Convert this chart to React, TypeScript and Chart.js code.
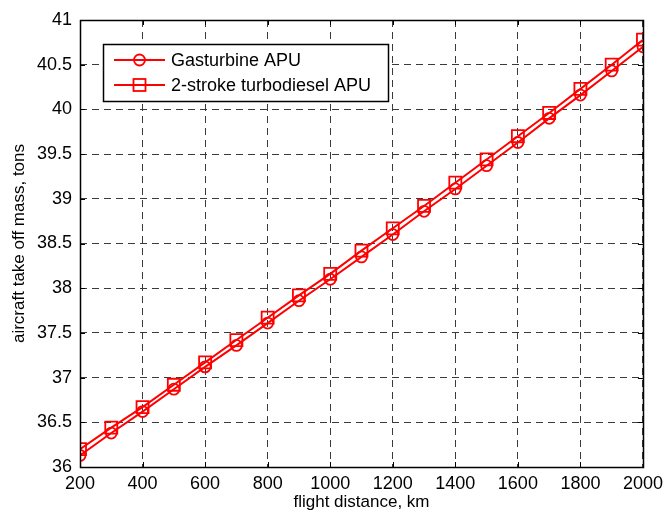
import React, { useEffect, useRef } from "react";
import { Chart, registerables } from "chart.js";

Chart.register(...registerables);

const distances = [200, 300, 400, 500, 600, 700, 800, 900, 1000, 1100, 1200, 1300, 1400, 1500, 1600, 1700, 1800, 1900, 2000];
const gasturbine = [36.13, 36.38, 36.62, 36.87, 37.12, 37.36, 37.61, 37.86, 38.1, 38.35, 38.6, 38.86, 39.11, 39.37, 39.63, 39.9, 40.16, 40.43, 40.7];
const turbodiesel = [36.2, 36.44, 36.67, 36.92, 37.17, 37.42, 37.67, 37.92, 38.16, 38.42, 38.67, 38.92, 39.18, 39.44, 39.7, 39.96, 40.23, 40.5, 40.78];
const seriesNames = ["Gasturbine APU", "2-stroke turbodiesel APU"];
const xTitle = "flight distance, km";
const yTitle = "aircraft take off mass, tons";

const FONT = "'Liberation Sans', Arial, sans-serif";

const boxPlugin = {
  id: "matlabBox",
  afterDraw(chart: any) {
    const { ctx, chartArea: a, scales } = chart;
    ctx.save();
    ctx.strokeStyle = "#000";
    ctx.lineWidth = 1;
    ctx.setLineDash([]);
    const tl = 5;
    ctx.beginPath();
    scales.x.ticks.forEach((t: any) => {
      const px = Math.round(scales.x.getPixelForValue(t.value)) + 0.5;
      ctx.moveTo(px, a.bottom);
      ctx.lineTo(px, a.bottom - tl);
      ctx.moveTo(px, a.top);
      ctx.lineTo(px, a.top + tl);
    });
    scales.y.ticks.forEach((t: any) => {
      const py = Math.round(scales.y.getPixelForValue(t.value)) + 0.5;
      ctx.moveTo(a.left, py);
      ctx.lineTo(a.left + tl, py);
      ctx.moveTo(a.right, py);
      ctx.lineTo(a.right - tl, py);
    });
    ctx.stroke();
    ctx.lineWidth = 1.5;
    ctx.strokeRect(Math.round(a.left) + 0.5, Math.round(a.top) + 0.5, Math.round(a.right - a.left), Math.round(a.bottom - a.top));

    // legend
    const lx = 103, ly = 44, lw = 285, lh = 57;
    ctx.fillStyle = "#fff";
    ctx.fillRect(lx, ly, lw, lh);
    ctx.lineWidth = 1.5;
    ctx.strokeStyle = "#000";
    ctx.strokeRect(lx + 0.5, ly + 0.5, lw, lh);
    const rows = [60, 85];
    ctx.font = `18px ${FONT}`;
    ctx.textBaseline = "middle";
    ctx.textAlign = "left";
    rows.forEach((ry, i) => {
      ctx.strokeStyle = "#ff0000";
      ctx.lineWidth = 2;
      ctx.beginPath();
      ctx.moveTo(114, ry);
      ctx.lineTo(165, ry);
      ctx.stroke();
      ctx.lineWidth = 1.8;
      if (i === 0) {
        ctx.beginPath();
        ctx.arc(139.5, ry, 5.5, 0, Math.PI * 2);
        ctx.stroke();
      } else {
        ctx.strokeRect(133.5, ry - 6, 12, 12);
      }
      ctx.fillStyle = "#000";
      ctx.fillText(seriesNames[i], 171, ry + 1);
    });
    ctx.restore();
  },
};

export default function App() {
  const ref = useRef<HTMLCanvasElement | null>(null);
  useEffect(() => {
    if (!ref.current) return;
    const chart = new Chart(ref.current, {
      type: "line",
      data: {
        datasets: [
          {
            label: seriesNames[0],
            data: distances.map((x, i) => ({ x, y: gasturbine[i] })),
            borderColor: "#ff0000",
            backgroundColor: "rgba(0,0,0,0)",
            borderWidth: 2,
            pointStyle: "circle",
            pointRadius: 5.5,
            pointBorderWidth: 1.8,
            pointBorderColor: "#ff0000",
            pointBackgroundColor: "rgba(0,0,0,0)",
            tension: 0,
          },
          {
            label: seriesNames[1],
            data: distances.map((x, i) => ({ x, y: turbodiesel[i] })),
            borderColor: "#ff0000",
            backgroundColor: "rgba(0,0,0,0)",
            borderWidth: 2,
            pointStyle: "rect",
            pointRadius: 8.5,
            pointBorderWidth: 1.8,
            pointBorderColor: "#ff0000",
            pointBackgroundColor: "rgba(0,0,0,0)",
            tension: 0,
          },
        ],
      },
      options: {
        animation: false,
        responsive: false,
        maintainAspectRatio: false,
        layout: { padding: { top: 20, right: 24, left: 0, bottom: 0 } },
        plugins: { legend: { display: false }, tooltip: { enabled: false } },
        scales: {
          x: {
            type: "linear",
            min: 200,
            max: 2000,
            ticks: {
              stepSize: 200,
              color: "#000",
              font: { family: FONT, size: 18 },
              padding: 6,
              maxRotation: 0,
              autoSkip: false,
              callback: (v: any) => String(v),
            },
            grid: { color: "#3a3a3a", lineWidth: 1, drawTicks: false },
            border: { display: false, dash: [7, 5] },
            title: {
              display: true,
              text: xTitle,
              color: "#000",
              font: { family: FONT, size: 17, lineHeight: 1 },
              padding: { top: 0, bottom: 0 },
            },
            afterFit: (s: any) => {
              s.height = 44;
            },
          },
          y: {
            type: "linear",
            min: 36,
            max: 41,
            ticks: {
              stepSize: 0.5,
              color: "#000",
              font: { family: FONT, size: 18 },
              padding: 8,
              autoSkip: false,
              callback: (v: any) => String(v),
            },
            grid: { color: "#3a3a3a", lineWidth: 1, drawTicks: false },
            border: { display: false, dash: [7, 5] },
            title: {
              display: true,
              text: yTitle,
              color: "#000",
              font: { family: FONT, size: 17, lineHeight: 1 },
              padding: { top: 11, bottom: 0 },
            },
            afterFit: (s: any) => {
              s.width = 80;
            },
          },
        },
      },
      plugins: [boxPlugin],
    });
    return () => chart.destroy();
  }, []);
  return (
    <div style={{ position: "fixed", left: 0, top: 0, width: 669, height: 511, background: "#fff" }}>
      <canvas ref={ref} width={669} height={511} style={{ width: 669, height: 511, display: "block" }} />
    </div>
  );
}
